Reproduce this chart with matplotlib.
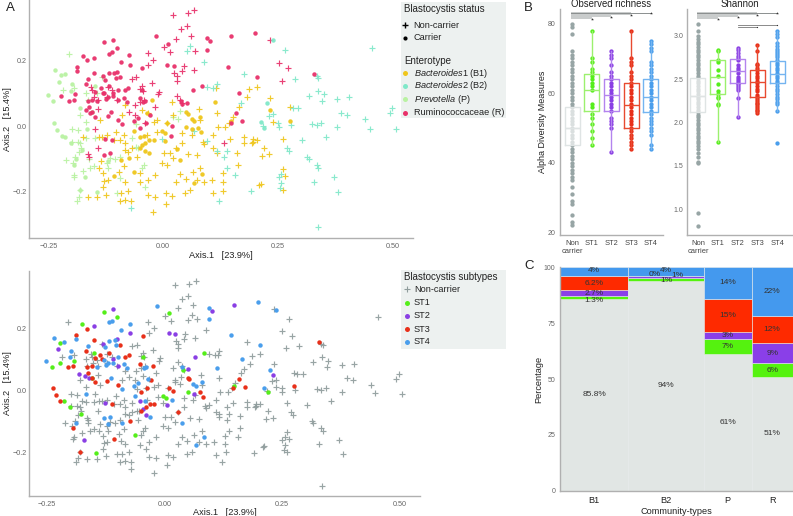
import matplotlib
matplotlib.use("Agg")
import matplotlib.pyplot as plt
from matplotlib.patches import Rectangle

plt.rcParams['font.family'] = ['Liberation Sans', 'DejaVu Sans']
plt.rcParams['mathtext.fontset'] = 'custom'
plt.rcParams['mathtext.it'] = 'Liberation Sans:italic'
plt.rcParams['mathtext.rm'] = 'Liberation Sans'

# ---------- PCoA data: non-carriers by enterotype (Axis.1, Axis.2) ----------
nc_R = [(.022,.341),(.053,.345),(.068,.355),(.051,.307),(.038,.296),(.060,.276),(.028,.267),(.002,.242),(.014,.226),(.070,.231),
(-.034,.223),(-.023,.202),(-.032,.187),(.045,.185),(.041,.168),(.066,.172),(.024,.161),(.030,.153),(.030,.138),(-.068,.145),
(-.059,.149),(-.025,.133),(-.046,.122),(-.050,.112),(-.043,.108),(-.009,.105),(-.011,.098),(.030,.093),(.037,.080),(-.157,.118),
(-.155,.110),(.041,.069),(-.017,.057),(-.041,.080),(-.050,.074),(-.061,.064),(-.142,.052),(-.148,-.010),(-.141,-.066),(-.164,-.087),
(-.162,-.094),(.133,-.051),(-.062,.034),(-.151,.090),(-.141,.080),(-.121,.120),(-.112,.110),(-.122,.090),(-.101,.080),(-.075,.044),
(-.039,.010),(.251,.194),(.272,.178),(.259,.138),(.233,.265)]
nc_P = [(-.204,.222),(-.217,.110),(-.193,.116),(-.167,.102),(-.133,.151),(-.164,.080),(-.144,.100),(-.180,.034),(-.167,.013),(-.199,-.010),
(-.186,-.012),(-.167,-.036),(-.149,-.036),(-.199,-.048),(-.186,-.048),(-.180,-.053),(-.178,-.066),(-.183,-.079),(-.211,-.104),(-.196,-.114),
(-.191,-.096),(-.162,-.102),(-.175,-.137),(-.159,-.130),(-.150,-.122),(-.195,-.155),(-.193,-.150),(-.180,-.196),(-.183,-.216),(-.188,-.230),
(-.122,-.114),(-.119,-.130),(-.104,-.102),(-.095,-.094),(-.115,-.099),(-.093,-.160),(-.059,-.065),(-.054,-.066),(-.059,.006),(-.068,-.038),
(-.041,-.119),(-.046,-.130),(-.039,-.186),(-.101,-.204),(.036,.046),(.033,.023),(.022,.029)]
nc_B2 = [(.058,.246),(.051,.230),(.088,.197),(.175,.158),(.117,.128),(.096,.118),(.108,.115),(.169,.072),(.117,-.076),(.138,-.076),
(.133,-.094),(.157,-.150),(.191,-.199),(.122,-.230),(-.071,-.252),(-.003,-.040),(.096,-.045),(.066,-.014),(.138,-.130),(.265,.233),
(.455,.239),(.287,.144),(.338,.148),(.334,.153),(.317,.092),(.336,.108),(.349,.098),(.346,.077),(.378,.083),(.404,.088),
(.283,.054),(.294,.054),(.388,.041),(.401,.034),(.439,.020),(.449,-.008),(.506,-.010),(.493,.039),(.499,.054),(.238,.036),
(.230,.031),(.250,.010),(.251,-.002),(.278,.002),(.324,.005),(.334,.002),(.343,.010),(.378,-.002),(.354,-.034),(.303,-.044),
(.269,-.068),(.273,-.078),(.314,-.096),(.317,-.102),(.334,-.119),(.338,-.130),(.371,-.157),(.329,-.171),(.380,-.202),(.251,-.157),
(.256,-.147),(.257,-.176),(.254,-.189),(.336,-.308),(.218,.000)]
nc_B1 = [(-.137,.018),(-.175,-.033),(-.133,-.033),(-.122,-.028),(-.139,-.033),(-.136,-.107),(-.140,-.130),(-.131,-.145),(-.128,-.167),(-.121,-.165),
(-.125,-.211),(-.164,-.218),(-.143,-.218),(-.131,-.186),(-.083,-.170),(-.076,-.198),(-.091,-.204),(-.095,-.229),(-.083,-.227),(-.070,-.230),
(-.032,-.212),(-.017,-.216),(-.022,-.264),(.007,-.206),(.006,-.240),(.019,-.214),(.048,-.204),(-.086,-.122),(-.097,-.140),(-.076,-.079),
(-.102,-.017),(-.085,-.028),(-.095,-.043),(-.083,-.053),(-.108,-.043),(-.083,-.073),(-.057,-.094),(-.068,-.068),(-.050,-.143),(-.051,-.173),
(-.033,-.165),(-.017,-.150),(.001,-.084),(-.003,-.112),(.008,-.119),(.015,-.084),(.022,-.099),(.028,-.068),(.041,-.053),(.041,-.022),
(.022,.034),(.019,.074),(-.021,.013),(-.014,.018),(.008,.010),(-.014,-.019),(-.036,-.028),(-.083,.064),(-.090,.034),(-.032,.039),
(-.046,.049),(.078,.052),(.117,.041),(.080,.018),(.073,-.089),(.055,-.087),(.080,-.128),(.064,-.142),(.037,-.147),(.049,-.162),
(.028,-.170),(.059,-.196),(.073,-.165),(.088,-.170),(.106,-.165),(.130,-.172),(.131,-.198),(.109,-.206),(.130,-.145),(.117,-.084),
(.109,-.068),(.089,-.055),(.086,-.048),(.062,-.028),(.109,-.028),(.119,-.002),(.135,-.002),(.144,.008),(.151,.027),(.146,-.039),
(.175,-.035),(.175,-.053),(.193,-.053),(.204,-.043),(.186,.112),(.204,.118),(.183,.088),(.164,.057),(.115,.115),(.162,-.119),
(.160,-.082),(.209,-.181),(.233,.087),(.275,.057),(.238,.013),(.196,-.041),(.195,-.050),(.261,-.040),(.220,-.066),(.216,-.091),
(.231,-.087),(.261,-.133),(.266,-.154),(.212,-.178),(.261,-.197)]

# ---------- carriers: (Axis.1, Axis.2, enterotype) by subtype ----------
st4 = [(-.251,.096,'P'),(-.235,.171,'P'),(-.213,.158,'P'),(-.188,.169,'R'),(-.199,.130,'P'),(-.200,.108,'P'),(-.163,.144,'R'),(-.143,.078,'R'),
(-.166,-.010,'P'),(-.189,-.102,'P'),(-.128,-.088,'R'),(-.119,-.108,'P'),(-.115,-.083,'R'),(-.091,-.105,'B1'),(-.118,.222,'R'),(-.112,.227,'R'),
(-.074,.217,'R'),(-.092,.197,'R'),(-.118,.161,'R'),(-.106,.163,'R'),(-.103,.148,'R'),(-.126,.141,'R'),(-.128,.100,'R'),(-.124,.084,'R'),
(-.119,.089,'R'),(-.109,.091,'R'),(-.098,.111,'R'),(-.086,.086,'R'),(-.079,.073,'R'),(-.113,.043,'R'),(-.090,.006,'R'),(-.064,.015,'R'),
(-.055,.026,'R'),(-.035,.039,'B1'),(-.063,-.015,'B1'),(-.042,-.031,'B1'),(-.040,.076,'R'),(-.043,.073,'R'),(-.031,-.084,'B1'),(-.016,.275,'R'),
(.096,.269,'R'),(.096,.233,'R'),(.141,.182,'R'),(.199,.286,'R'),(.204,.149,'R'),(.165,.102,'R'),(.113,.073,'B1'),(.038,.078,'R'),
(.080,.029,'B1'),(.067,.016,'B1'),(.062,.023,'B1'),(.016,-.030,'R'),(.037,-.103,'B1'),(.085,-.148,'B1'),(.067,-.174,'B1'),
(.238,.262,'B2'),(.225,.069,'B2'),(.212,.011,'B2')]
st3 = [(-.188,.181,'R'),(-.165,.201,'R'),(-.150,.163,'R'),(-.167,.128,'R'),(-.136,.116,'R'),(-.148,.105,'R'),(-.132,.102,'R'),(-.117,.124,'R'),
(-.194,.081,'R'),(-.206,.077,'R'),(-.164,.077,'R'),(-.155,.081,'R'),(-.162,.058,'R'),(-.154,.042,'R'),(-.148,.029,'R'),(-.121,.031,'R'),
(-.099,.019,'R'),(-.095,.149,'R'),(-.084,.110,'R'),(-.076,.115,'R'),(-.046,.177,'R'),(-.051,.087,'R'),(-.025,.081,'B1'),(-.029,.034,'R'),
(-.037,.009,'R'),(-.050,-.005,'R'),(-.031,-.043,'B1'),(-.021,-.043,'B1'),(-.040,-.051,'B1'),(-.050,-.066,'B1'),(-.074,-.098,'B1'),(-.108,-.154,'B1'),
(-.180,-.196,'P'),(-.195,-.120,'P'),(-.237,.008,'P'),(-.230,-.012,'P'),(-.221,-.032,'P'),(-.112,-.043,'R'),(.009,.009,'B1'),(.019,-.001,'R'),
(.050,.042,'B1'),(.053,.037,'B1'),(.075,-.005,'B1'),(.082,-.019,'B1'),(.030,-.069,'B1'),(.159,.039,'R'),(.147,.008,'R'),(.171,.014,'R'),
(.329,.159,'R'),(.276,.015,'B1')]
st2 = [(-.109,.263,'R'),(-.150,.209,'R'),(-.227,.134,'P'),(-.130,.153,'R'),(-.100,.166,'R'),(-.073,.186,'R'),(-.110,.102,'R'),(-.099,.081,'R'),
(-.182,.054,'P'),(-.169,.049,'R'),(-.160,.041,'R'),(-.126,-.040,'R'),(-.046,-.059,'B1'),(-.051,-.033,'B1'),(-.040,-.077,'B1'),(.005,-.046,'B1'),
(.009,.188,'R'),(.023,.185,'R'),(.101,.259,'R'),(.148,.276,'R'),(.065,.109,'R'),(.051,.070,'R'),(.063,-.010,'B1'),(-.171,-.157,'P'),(.232,.050,'B1')]
st1 = [(-.128,.256,'R'),(-.101,.239,'R'),(-.175,.216,'R'),(-.223,.156,'P'),(-.222,.091,'R'),(-.240,.077,'P'),(-.192,.098,'R'),(-.149,.122,'P'),
(-.046,.111,'R'),(.010,.251,'R'),(.085,.122,'R'),(.040,.067,'R'),(-.213,-.034,'P'),(-.201,-.051,'P'),(-.177,-.073,'P'),(-.063,-.141,'B1'),
(-.145,-.201,'P'),(-.002,-.016,'B1'),(.004,-.022,'B1'),(.050,-.002,'B1'),(.148,.016,'B1'),(-.155,.043,'P'),(.220,-.005,'B2')]

# ---------- alpha diversity ----------
rich_non = [22,23,25,28,29,31,33,35,36,37,38,39,40,41,42,43,44,45,46,47,48,49,50,51,52,53,54,55,56,57,58,59,60,61,62,63,64,65,66,67,68,69,70,71,72,77,79,80]
rich_st1 = [45,47,49,51,53,54,56,57,61,62,63,64,65,66,67,69,70,78]
rich_st2 = [43,50,51,52,53,55,56,57,58,59,60,61,62,63,64,65,66,68,70,71,72]
rich_st3 = [44,45,46,47,48,49,50,51,52,53,54,55,56,57,58,59,60,61,62,63,64,65,66,68,69,70,78]
rich_st4 = [44,45,48,49,50,51,52,53,54,55,56,57,58,59,60,61,62,63,64,65,66,67,68,69,72,73,74,75]
shan_non = [.81,.96,1.53,1.55,1.60,1.65,1.70,1.73,1.76,1.79,1.82,1.85,1.88,1.91,1.94,1.97,2.00,2.03,2.06,2.09,2.12,2.15,2.18,2.21,2.24,2.27,2.30,2.33,2.36,2.39,2.42,2.45,2.48,2.51,2.54,2.57,2.60,2.63,2.66,2.69,2.72,2.75,2.78,2.81,2.84,2.87,2.90,2.93,2.96,3.00,3.05,3.14]
shan_st1 = [1.78,2.20,2.21,2.28,2.30,2.33,2.36,2.44,2.54,2.60,2.70,2.72,2.82,2.84]
shan_st2 = [2.06,2.28,2.38,2.40,2.42,2.44,2.46,2.48,2.50,2.53,2.57,2.60,2.63,2.66,2.72,2.74,2.77,2.80,2.83,2.86]
shan_st3 = [2.11,2.13,2.15,2.17,2.19,2.21,2.23,2.25,2.27,2.29,2.32,2.36,2.39,2.42,2.45,2.48,2.51,2.54,2.57,2.60,2.63,2.66,2.68,2.82,2.89]
shan_st4 = [1.76,2.13,2.21,2.24,2.27,2.30,2.33,2.36,2.39,2.42,2.45,2.48,2.51,2.54,2.57,2.60,2.63,2.66,2.69,2.72,2.75,2.78,2.80,2.82,2.85,2.88,2.92,2.98,3.02,3.05]
# q1, median, q3, whisker low, whisker high
rich_box = [(45,50,56,35,72),(55,61,65.5,45,78),(55,59.5,64,43,72),(50,56.5,63,44,78),(54.5,59,64,44,75)]
shan_box = [(2.12,2.31,2.51,1.55,3.05),(2.33,2.53,2.72,1.78,2.84),(2.45,2.59,2.73,2.06,2.86),(2.30,2.47,2.60,2.11,2.89),(2.46,2.56,2.71,2.13,3.05)]
group_labels = ['Non\ncarrier','ST1','ST2','ST3','ST4']

# ---------- mosaic ----------
comm_types = ['B1','B2','P','R']
comm_width = [206,226,144,123]
pct_non = [85.8,94,61,51]
pct_st1 = [1.3,1,7,6]
pct_st2 = [2.7,1,3,9]
pct_st3 = [6.2,0,15,12]
pct_st4 = [4,4,14,22]
lab_non = ['85.8%','94%','61%','51%']
lab_st1 = ['1.3%','1%','7%','6%']
lab_st2 = ['2.7%','1%','3%','9%']
lab_st3 = ['6.2%','0%','15%','12%']
lab_st4 = ['4%','4%','14%','22%']

W, H = 793, 516
C_ENT = {'B1':'#efc61c','B2':'#80e8c9','P':'#b9f2a2','R':'#e8316a'}
C_NC = '#8f9c9c'
C_ST = ['#55ee1a','#8a3fe4','#e8301a','#4a9eec']
C_BAR = ['#e1e6e4','#55f20f','#8a3fe8','#fe2a00','#4499ee']
TXT = '#222222'; TICK = '#666666'; SP = '#b0b0b0'

fig = plt.figure(figsize=(W/100, H/100), dpi=100, facecolor='white')

def ax_px(l, t, r, b):
    return fig.add_axes([l/W, 1-b/H, (r-l)/W, (b-t)/H])

def clean(ax):
    for s in ('top','right'):
        ax.spines[s].set_visible(False)
    for s in ('left','bottom'):
        ax.spines[s].set_color(SP)
        ax.spines[s].set_linewidth(1.0)
    ax.tick_params(length=0, labelsize=5.2, labelcolor=TICK, pad=1.5)

def xy(pts):
    return [p[0] for p in pts], [p[1] for p in pts]

def pcoa(ax, xlim, ylim):
    clean(ax)
    ax.set_xlim(*xlim); ax.set_ylim(*ylim)
    ax.set_xticks([-.25,0,.25,.5]); ax.set_xticklabels(['\u22120.25','0.00','0.25','0.50'])
    ax.set_yticks([-.2,0,.2]); ax.set_yticklabels(['\u22120.2','0.0','0.2'])
    ax.tick_params(axis='x', pad=3.5)
    ax.set_xlabel('Axis.1   [23.9%]', fontsize=6.6, color=TXT, labelpad=0.5)
    ax.set_ylabel('Axis.2   [15.4%]', fontsize=6.6, color=TXT, labelpad=0.5)

CROSS = dict(ls='', marker='+', ms=4.5, mew=.85, alpha=.92)
# Panel A top
a1 = ax_px(29, 0, 412.7, 238)
pcoa(a1, (-.292,.543), (-.343,.386))
for pts, k in ((nc_P,'P'),(nc_B1,'B1'),(nc_B2,'B2'),(nc_R,'R')):
    a1.plot(*xy(pts), color=C_ENT[k], **CROSS)
carr = st1+st2+st3+st4
for k in ('P','B1','B2','R'):
    a1.plot(*xy([p for p in carr if p[2]==k]), ls='', marker='o', ms=3.2, mew=0, color=C_ENT[k], alpha=.95)

# Panel A bottom
a2 = ax_px(29, 271, 420, 495.7)
pcoa(a2, (-.288,.544), (-.338,.387))
a2.plot(*xy(nc_R+nc_P+nc_B1+nc_B2), color=C_NC, **CROSS)
for pts, c in zip((st1,st2,st3,st4), C_ST):
    a2.plot(*xy(pts), ls='', marker='o', ms=3.2, mew=0, color=c)

# Panel B
DOT = ['#97a5a5','#55ee1a','#8a3fe4','#e8301a','#4a9eec']
BOXC = ['#dfe4e4','#9cf06e','#b384ee','#e84a30','#74b4f0']
def alpha_panel(ax, groups, stats, xlim, ylim, yticks, yfmt, title):
    clean(ax)
    ax.set_xlim(*xlim); ax.set_ylim(*ylim)
    for i, (vals, c) in enumerate(zip(groups, DOT)):
        ax.plot([i]*len(vals), vals, ls='', marker='o', ms=3.1, mew=0, color=c, zorder=2)
    for i, (q1, med, q3, lo, hi) in enumerate(stats):
        st = [dict(q1=q1, med=med, q3=q3, whislo=lo, whishi=hi, fliers=[])]
        c = BOXC[i]
        wc = 'none' if i == 0 else c
        if i == 0:
            ax.bxp(st, positions=[i], widths=.76, showfliers=False, showcaps=False, patch_artist=True,
                   boxprops=dict(facecolor='white', alpha=.65, edgecolor='none'), medianprops=dict(color=c, lw=1),
                   whiskerprops=dict(color=wc, lw=1), manage_ticks=False, zorder=3)
        ax.bxp(st, positions=[i], widths=.76, showfliers=False, showcaps=False,
               boxprops=dict(color=c, lw=1), medianprops=dict(color=c, lw=1),
               whiskerprops=dict(color=wc, lw=1), manage_ticks=False, zorder=4)
    ax.set_xticks(range(5)); ax.set_xticklabels(group_labels, linespacing=1.15)
    ax.tick_params(axis='x', labelsize=5.4, labelcolor='#444444', pad=4)
    ax.set_yticks(yticks); ax.set_yticklabels([yfmt % v for v in yticks])
    ax.tick_params(axis='y', labelsize=5, labelcolor=TICK, pad=3)
    ax.set_title(title, fontsize=6.9, color=TXT, pad=1.5)

b1 = ax_px(559.7, 9, 662.7, 234.7)
alpha_panel(b1, [rich_non,rich_st1,rich_st2,rich_st3,rich_st4], rich_box, (-.627,4.61), (19.3,84.2), [20,40,60,80], '%d', 'Observed richness')
b1.set_ylabel('Alpha Diversity Measures', fontsize=6.5, color=TXT, labelpad=0.5)
b2 = ax_px(687.3, 9, 791.7, 234.7)
alpha_panel(b2, [shan_non,shan_st1,shan_st2,shan_st3,shan_st4], shan_box, (-.54,4.74), (.708,3.308), [1,1.5,2,2.5,3], '%.1f', 'Shannon')

# pairwise comparisons: group end index, lower edge as a fraction of the wedge
compare_end = [1,2,3]
compare_frac = [1.0,.65,.35]
def signif(ax, top, dy):
    for end, frac in zip(compare_end, compare_frac):
        ax.fill_between([-.05,end], top-frac*dy, top, color='#c9cccc', lw=0, zorder=1)
        ax.plot([end], [top-frac*dy], ls='', marker='*', ms=2.2, mew=0, color='#333333', zorder=5)
    ax.plot([-.05,4], [top-.07*dy]*2, color='#8b8f8f', lw=.7, zorder=1)
    ax.plot([4], [top-.07*dy], ls='', marker='*', ms=2.2, mew=0, color='#333333', zorder=5)

signif(b1, 83.3, 2.0)
signif(b2, 3.27, .077)
b2.plot([2,4],[3.12,3.12], color='#777777', lw=.6)
b2.plot([2,3],[3.097,3.097], color='#777777', lw=.6)
b2.plot([4,3],[3.12,3.097], ls='', marker='.', ms=1.8, mew=0, color='#333333')

# Panel C
c = ax_px(559.7, 267.3, 792.7, 490.7)
clean(c)
total = sum(comm_width)
c.set_xlim(0,total); c.set_ylim(0,100)
left = 0; centers = []
for i, w in enumerate(comm_width):
    bot = 0
    centers.append(left + w/2)
    for vals, labs, col in zip((pct_non,pct_st1,pct_st2,pct_st3,pct_st4),(lab_non,lab_st1,lab_st2,lab_st3,lab_st4),C_BAR):
        v = vals[i]
        c.bar(left, v, width=w, bottom=bot, align='edge', color=col, edgecolor='#e6eaea', lw=.4)
        tx, ty = left+w/2, bot+v/2
        if labs[i] == '0%':
            tx -= 35; ty = 96.8
        if i == 1 and labs is lab_st2:
            tx += 35; ty = 96.4
        if i == 1 and labs is lab_st1:
            ty = 94
        if i == 1 and labs is lab_st4:
            ty = 98.6
        if i == 0 and labs is lab_st1:
            ty = 85
        if i == 0 and labs is lab_st4:
            ty = 98.6
        c.text(tx, ty, labs[i], ha='center', va='center', fontsize=6, color='#333333')
        bot += v
    left += w
c.set_xticks(centers); c.set_xticklabels(comm_types)
c.set_yticks([0,25,50,75,100]); c.set_yticklabels(['0','25','50','75','100'])
c.tick_params(axis='x', labelsize=6.6, labelcolor=TXT, pad=4)
c.tick_params(axis='y', labelsize=5, labelcolor=TICK, pad=3)
c.set_xlabel('Community-types', fontsize=6.6, color=TXT, labelpad=1)
c.set_ylabel('Percentage', fontsize=6.6, color=TXT, labelpad=0.5)

# overlay for legends and panel letters (pixel units)
ov = fig.add_axes([0,0,1,1], facecolor='none'); ov.set_xlim(0,W); ov.set_ylim(H,0); ov.axis('off')
ov.add_patch(Rectangle((400.7,2), 105.3, 116, color='#edf1f0', lw=0))
ov.add_patch(Rectangle((400.7,270), 105.3, 78.7, color='#edf1f0', lw=0))
def txt(x, y, s, fs=6.55, **kw):
    ov.text(x, y, s, fontsize=fs, color=TXT, va='center', ha='left', **kw)
txt(404,9.5,'Blastocystis status', fs=7)
ov.plot([405],[25], ls='', marker='+', ms=4.5, mew=1, color='black'); txt(413.5,25,'Non-carrier')
ov.plot([405],[38], ls='', marker='o', ms=3, mew=0, color='black'); txt(413.5,38,'Carrier')
txt(404,60.5,'Enterotype', fs=7)
ent_rows = [(73,'$\\mathit{Bacteroides1}$ (B1)','B1'),(86,'$\\mathit{Bacteroides2}$ (B2)','B2'),(99,'$\\mathit{Prevotella}$ (P)','P'),(112.5,'Ruminococcaceae (R)','R')]
for y, s, k in ent_rows:
    ov.plot([405],[y], ls='', marker='o', ms=3.6, mew=0, color=C_ENT[k]); txt(413.5,y,s)
txt(404,277,'Blastocystis subtypes', fs=7)
ov.plot([406.5],[289], ls='', marker='+', ms=4.5, mew=.8, color=C_NC); txt(414,289,'Non-carrier')
for y, s, col in zip((302.5,315.5,329,342),('ST1','ST2','ST3','ST4'),C_ST):
    ov.plot([406.5],[y], ls='', marker='o', ms=3.6, mew=0, color=col); txt(414,y,s)
for x, y, s in ((6,8,'A'),(524,8,'B'),(524,266,'C')):
    txt(x, y, s, fs=9.5)

fig.savefig('out.png', dpi=100, facecolor='white')
